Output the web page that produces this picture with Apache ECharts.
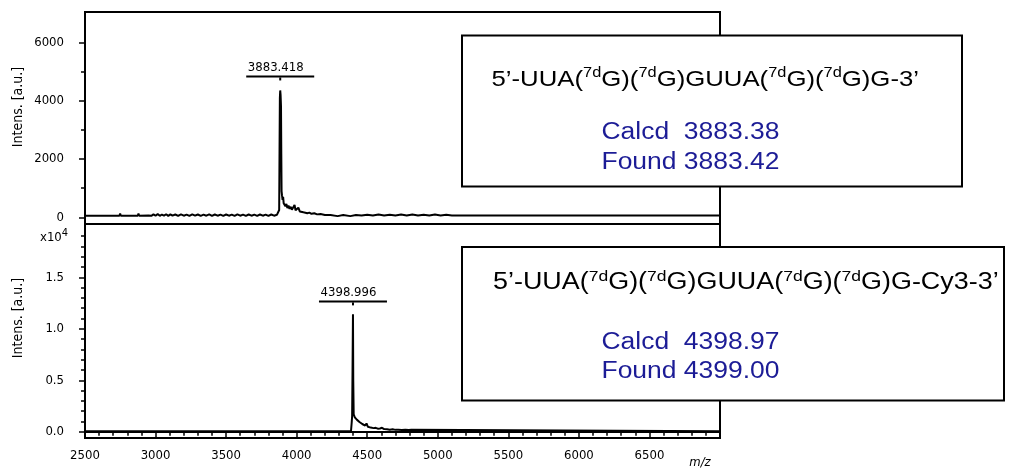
<!DOCTYPE html>
<html>
<head>
<meta charset="utf-8">
<script src="https://cdn.jsdelivr.net/npm/echarts@6/dist/echarts.min.js"></script>
<style>
  html, body { margin: 0; padding: 0; background: #fff; }
  #chart { width: 1013px; height: 475px; }
</style>
</head>
<body>
<div id="chart"></div>
<script>
// MALDI-TOF spectra of the two oligonucleotides (m/z vs intensity)

// Upper trace: 5'-...-3'
const mzTop = [
  2500, 2600, 2700, 2744, 2749, 2754, 2820, 2874, 2879, 2884,
  2950, 2960, 2970, 2985, 3000, 3015, 3030, 3045, 3060, 3075,
  3090, 3105, 3120, 3140, 3160, 3180, 3200, 3220, 3240, 3260,
  3280, 3300, 3320, 3340, 3360, 3380, 3400, 3420, 3440, 3460,
  3480, 3500, 3520, 3540, 3560, 3580, 3600, 3620, 3640, 3660,
  3680, 3700, 3720, 3740, 3760, 3780, 3800, 3820, 3840, 3860, 3872,
  3876, 3879, 3881, 3883.418, 3886, 3889, 3891, 3893, 3896, 3900,
  3904, 3908, 3913, 3920, 3927, 3934, 3942, 3950, 3958, 3966,
  3975, 3985, 3992, 4002, 4012, 4022, 4035, 4048, 4060, 4075,
  4090, 4105, 4125, 4145, 4170, 4200,
  4240, 4290, 4330, 4380, 4420, 4460, 4500, 4540, 4580, 4620,
  4660, 4700, 4740, 4780, 4820, 4860, 4900, 4940, 4980, 5020, 5060, 5100,
  5139, 5144, 5149, 5236, 5241, 5246, 5295, 5300, 5305,
  5437, 5442, 5447, 5530, 5535, 5540, 5627, 5632, 5637,
  5721, 5726, 5731, 5813, 5818, 5823, 5946, 5951, 5956,
  6124, 6129, 6134, 6218, 6223, 6228, 6254, 6259, 6264,
  6586, 6591, 6596, 6668, 6673, 6678, 6905, 6910, 6915, 7000
];
const intTop = [
  55, 55, 55, 55, 130, 55, 55, 55, 130, 55,
  60, 110, 50, 100, 55, 110, 50, 95, 55, 105,
  50, 100, 55, 95, 50, 100, 55, 90, 50, 100,
  55, 95, 50, 90, 55, 100, 50, 95, 55, 90,
  50, 95, 55, 90, 50, 100, 55, 90, 50, 95,
  55, 90, 50, 95, 55, 90, 50, 95, 55, 85, 60,
  250, 2600, 4100, 4350, 4200, 3800, 2200, 900, 760, 600,
  700, 480, 540, 380, 460, 320, 400, 290, 360, 260,
  300, 420, 240, 270, 330, 200, 230, 170, 190, 140,
  160, 120, 140, 100, 110, 80,
  75, 40, 75, 40, 80, 60, 90, 60, 95, 60,
  90, 65, 95, 60, 95, 65, 90, 60, 95, 65, 85, 65,
  65, 130, 65, 65, 130, 65, 65, 125, 65,
  65, 125, 65, 65, 120, 65, 65, 125, 65,
  65, 120, 65, 65, 125, 65, 65, 125, 65,
  65, 125, 65, 65, 125, 65, 65, 125, 65,
  65, 125, 65, 65, 125, 65, 65, 125, 65, 65
];

// Lower trace: 5'-...-Cy3-3'
const mzBottom = [
  2500, 4385, 4390, 4393, 4396, 4398.996, 4401, 4404, 4408, 4412,
  4420, 4428, 4436, 4445, 4455, 4465, 4475, 4485, 4495, 4505,
  4515, 4525, 4535, 4545, 4560, 4575, 4590, 4605, 4620, 4640,
  4660, 4680, 4700, 4720, 4745, 4770, 4795, 4812, 4820, 7000
];
const intBottom = [
  50, 50, 900, 1500, 6000, 11400, 5000, 1700, 1650, 1400,
  1550, 1150, 1250, 950, 1000, 750, 820, 600, 800, 480,
  520, 400, 560, 350, 380, 300, 320, 380, 260, 250,
  200, 230, 180, 200, 170, 190, 160, 180, 50, 50
];

// Axis ticks
const yMajorTop = [0, 2000, 4000, 6000];
const yMinorTop = [1000, 3000, 5000];
const yMajorBottom = [0, 5000, 10000, 15000];
const yMinorBottom = [1000, 2000, 3000, 4000, 6000, 7000, 8000, 9000,
  11000, 12000, 13000, 14000, 16000, 17000, 18000, 19000];

// Annotation text
const seqTop = '5’-UUA({s|7d}G)({s|7d}G)GUUA({s|7d}G)({s|7d}G)G-3’';
const seqBottom = '5’-UUA({s|7d}G)({s|7d}G)GUUA({s|7d}G)({s|7d}G)G-Cy3-3’';
const calcdTop = '3883.38', foundTop = '3883.42';
const calcdBottom = '4398.97', foundBottom = '4399.00';

const NARROW = '"Liberation Sans Narrow", "DejaVu Sans Condensed", "Liberation Sans", sans-serif';
const ARIAL = '"Liberation Sans", Arial, sans-serif';
const BLUE = '#1c1c96';

const pairs = (xs, ys) => xs.map((x, i) => [x, ys[i]]);
const peakOf = (xs, ys) => {
  let k = 0;
  ys.forEach((v, i) => { if (v > ys[k]) k = i; });
  return [xs[k], ys[k]];
};

function peakMark(peak, dist) {
  return {
    symbol: 'circle',
    symbolSize: 0,
    animation: false,
    data: [{ coord: peak, value: peak[0] }],
    label: {
      show: true,
      position: 'top',
      distance: dist,
      formatter: p => '{t|' + p.value.toFixed(3) + '}\n{bar|}\n{tk|}',
      rich: {
        t: { fontSize: 13, fontFamily: NARROW, color: '#000', lineHeight: 14, padding: [0, 9, 1, 0] },
        bar: { width: 68, height: 2, lineHeight: 2, backgroundColor: '#000' },
        tk: { width: 2, height: 3, lineHeight: 3, backgroundColor: '#000' }
      }
    }
  };
}

function majorAxis(grid, min, max, ticks, fmt) {
  return {
    type: 'value', gridIndex: grid, min: min, max: max, position: 'left',
    axisLine: { show: false },
    splitLine: { show: false },
    axisTick: { show: true, length: 6, customValues: ticks, lineStyle: { color: '#000', width: 1.5 } },
    axisLabel: { customValues: ticks, margin: 21, color: '#000', fontSize: 13, fontFamily: NARROW, formatter: fmt }
  };
}
function minorAxis(grid, min, max, ticks) {
  return {
    type: 'value', gridIndex: grid, min: min, max: max, position: 'left',
    axisLine: { show: false },
    splitLine: { show: false },
    axisTick: { show: true, length: 4, customValues: ticks, lineStyle: { color: '#000', width: 1.5 } },
    axisLabel: { show: false }
  };
}

function seqText(x, y, text, size, sx) {
  return {
    type: 'text', x: x, y: y, scaleX: sx, z: 101,
    style: {
      text: text, x: 0, y: 0, align: 'left', verticalAlign: 'middle',
      fontSize: size, fontFamily: ARIAL, fill: '#000', lineHeight: size + 4,
      rich: { s: { fontSize: Math.round(size * 0.64), fontFamily: ARIAL, fill: '#000', verticalAlign: 'top', lineHeight: 14 } }
    }
  };
}
function blueText(x, y, text) {
  return {
    type: 'text', x: x, y: y, scaleX: 1.15, z: 101,
    style: { text: text, x: 0, y: 0, align: 'left', verticalAlign: 'middle',
      fontSize: 23, fontFamily: ARIAL, fill: BLUE }
  };
}

const chart = echarts.init(document.getElementById('chart'), null, { renderer: 'canvas' });

chart.setOption({
  animation: false,
  backgroundColor: '#fff',
  grid: [
    { left: 85, top: 12, width: 635, height: 212, show: true, borderColor: '#000', borderWidth: 2, backgroundColor: 'transparent' },
    { left: 85, top: 224, width: 635, height: 214, show: true, borderColor: '#000', borderWidth: 2, backgroundColor: 'transparent' }
  ],
  xAxis: [
    { type: 'value', gridIndex: 0, min: 2500, max: 7000, show: false },
    {
      type: 'value', gridIndex: 1, min: 2500, max: 7000, interval: 500,
      axisLine: { show: true, lineStyle: { color: '#000', width: 2 } },
      splitLine: { show: false },
      axisTick: { show: true, length: 6, lineStyle: { color: '#000', width: 1.5 } },
      minorTick: { show: true, splitNumber: 5, length: 4, lineStyle: { color: '#000', width: 1.5 } },
      axisLabel: { margin: 11, color: '#000', fontSize: 13, fontFamily: NARROW, showMaxLabel: false,
        formatter: v => String(v) }
    }
  ],
  yAxis: [
    majorAxis(0, -230, 7040, yMajorTop, v => String(v)),
    minorAxis(0, -230, 7040, yMinorTop),
    majorAxis(1, -610, 20180, yMajorBottom, v => (v / 10000).toFixed(1)),
    minorAxis(1, -610, 20180, yMinorBottom)
  ],
  series: [
    {
      type: 'line', xAxisIndex: 0, yAxisIndex: 0,
      data: pairs(mzTop, intTop),
      symbol: 'none', showSymbol: false,
      lineStyle: { color: '#000', width: 2 },
      markPoint: peakMark(peakOf(mzTop, intTop), 10)
    },
    {
      type: 'line', xAxisIndex: 1, yAxisIndex: 2,
      data: pairs(mzBottom, intBottom),
      symbol: 'none', showSymbol: false,
      lineStyle: { color: '#000', width: 2 },
      markPoint: peakMark(peakOf(mzBottom, intBottom), 9)
    }
  ],
  graphic: [
    { type: 'text', x: 18, y: 107, rotation: Math.PI / 2,
      style: { text: 'Intens. [a.u.]', align: 'center', verticalAlign: 'middle', fontSize: 14, fontFamily: NARROW, fill: '#000' } },
    { type: 'text', x: 18, y: 318, rotation: Math.PI / 2,
      style: { text: 'Intens. [a.u.]', align: 'center', verticalAlign: 'middle', fontSize: 14, fontFamily: NARROW, fill: '#000' } },
    { type: 'text', x: 40, y: 236,
      style: { text: '{a|x10}{b|4}', align: 'left', verticalAlign: 'middle', fill: '#000',
        rich: { a: { fontSize: 13, fontFamily: NARROW, fill: '#000', lineHeight: 16, verticalAlign: 'bottom' },
                b: { fontSize: 11, fontFamily: NARROW, fill: '#000', lineHeight: 11, verticalAlign: 'top' } } } },
    { type: 'text', x: 700, y: 463,
      style: { text: 'm/z', align: 'center', verticalAlign: 'middle', fontSize: 13, fontStyle: 'italic', fontFamily: NARROW, fill: '#000' } },

    { type: 'rect', z: 100, shape: { x: 462, y: 35.5, width: 500, height: 151 },
      style: { fill: '#fff', stroke: '#000', lineWidth: 2 } },
    seqText(491.5, 79.5, seqTop, 22, 1.17),
    blueText(601.5, 132.5, 'Calcd  ' + calcdTop),
    blueText(601.5, 162.5, 'Found ' + foundTop),

    { type: 'rect', z: 100, shape: { x: 462, y: 247, width: 542, height: 153.5 },
      style: { fill: '#fff', stroke: '#000', lineWidth: 2 } },
    seqText(493, 282.5, seqBottom, 23, 1.17),
    blueText(601.5, 342.5, 'Calcd  ' + calcdBottom),
    blueText(601.5, 371.5, 'Found ' + foundBottom)
  ]
});
</script>
</body>
</html>
